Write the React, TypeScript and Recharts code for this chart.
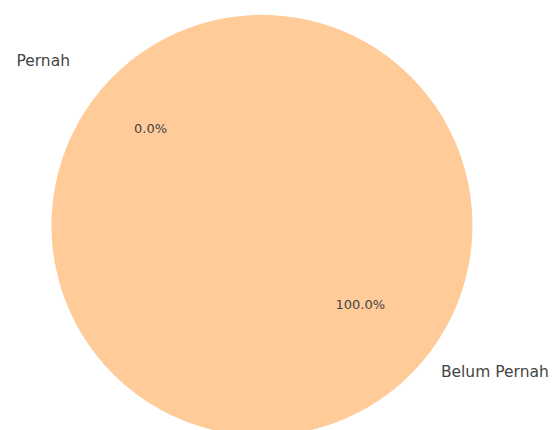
import React from 'react'
import { PieChart, Pie, Cell } from 'recharts'

const LABELS = ['Pernah', 'Belum Pernah']
const VALUES = [0, 100]

// matplotlib-style pie settings
const COLORS = ['#ffcc99', '#ffcc99']
const EXPLODE = [0.1, 0]
const START_ANGLE = 140
const LABEL_DIST = 1.1
const PCT_DIST = 0.6
const TEXT = '#444'
const FONT = 'DejaVu Sans, sans-serif'

const data = LABELS.map((name, i) => ({ name, value: VALUES[i] }))
const total = VALUES.reduce((a, b) => a + b, 0)

const RADIAN = Math.PI / 180

function renderLabel(props: any) {
  const { cx, cy, midAngle, outerRadius, index } = props
  const ex = EXPLODE[index] ?? 0
  const cos = Math.cos(-midAngle * RADIAN)
  const sin = Math.sin(-midAngle * RADIAN)
  const lr = outerRadius * (LABEL_DIST + ex)
  const pr = outerRadius * (PCT_DIST + ex)
  const lx = cx + lr * cos
  const ly = cy + lr * sin
  const px = cx + pr * cos
  const py = cy + pr * sin
  const pct = total > 0 ? (VALUES[index] / total) * 100 : 0
  return (
    <g key={`lbl-${index}`}>
      <text
        x={lx}
        y={ly}
        fill={TEXT}
        fontFamily={FONT}
        fontSize={15.5}
        textAnchor={cos < 0 ? 'end' : 'start'}
        dominantBaseline="central"
      >
        {LABELS[index]}
      </text>
      <text
        x={px}
        y={py}
        fill={TEXT}
        fontFamily={FONT}
        fontSize={13}
        textAnchor="middle"
        dominantBaseline="central"
      >
        {pct.toFixed(1)}%
      </text>
    </g>
  )
}

export default function App() {
  return (
    <div style={{ position: 'absolute', left: 0, top: 0, background: '#fff' }}>
      <PieChart width={556} height={430} margin={{ top: 0, right: 0, bottom: 0, left: 0 }}>
        <Pie
          data={data}
          dataKey="value"
          nameKey="name"
          cx={263.5}
          cy={223.5}
          outerRadius={210.5}
          startAngle={START_ANGLE}
          endAngle={START_ANGLE + 360}
          stroke="none"
          label={renderLabel}
          labelLine={false}
          isAnimationActive={false}
        >
          {data.map((d, i) => (
            <Cell key={d.name} fill={COLORS[i]} />
          ))}
        </Pie>
      </PieChart>
    </div>
  )
}
